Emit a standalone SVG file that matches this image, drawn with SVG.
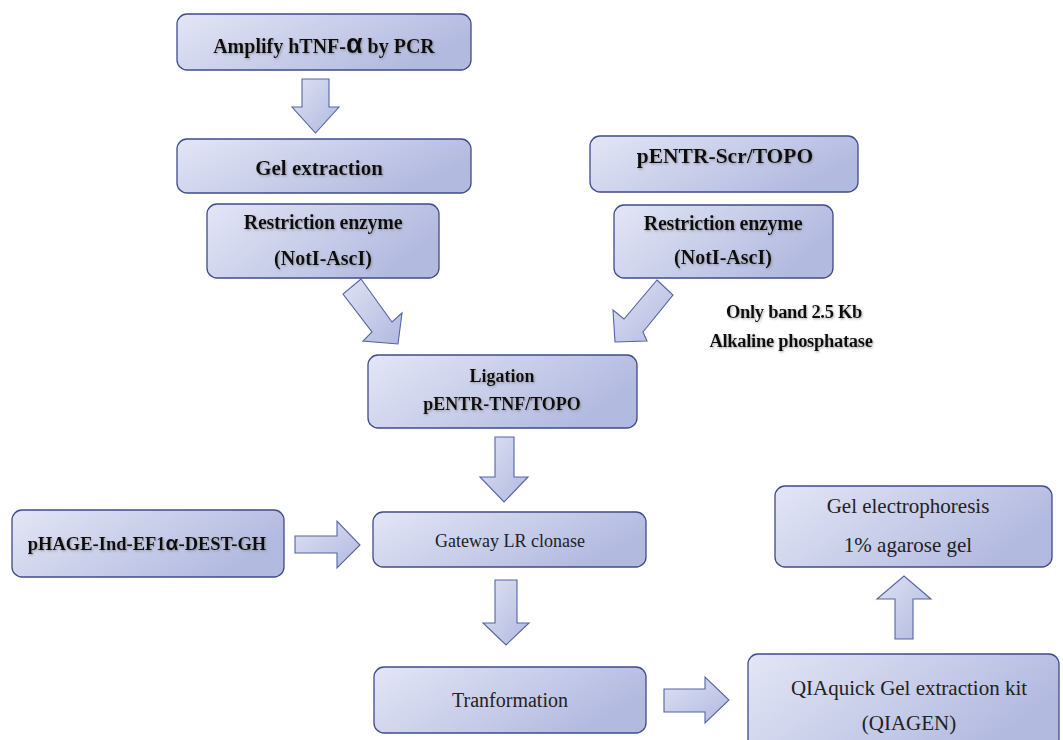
<svg xmlns="http://www.w3.org/2000/svg" width="1063" height="740" viewBox="0 0 1063 740">
<defs>
  <linearGradient id="boxg" x1="0" y1="0" x2="1" y2="0.4">
    <stop offset="0" stop-color="#e3e6f5"/>
    <stop offset="1" stop-color="#b3bae0"/>
  </linearGradient>
  <linearGradient id="arrg" x1="0" y1="0" x2="1" y2="1">
    <stop offset="0" stop-color="#dfe2f3"/>
    <stop offset="1" stop-color="#b0b8df"/>
  </linearGradient>
  <filter id="sh" x="-5%" y="-20%" width="110%" height="140%">
    <feDropShadow dx="1" dy="1.2" stdDeviation="0.8" flood-color="#777" flood-opacity="0.6"/>
  </filter>
</defs>
<style>
  .box { fill: url(#boxg); stroke: #3f4c8c; stroke-width: 1.3; }
  .arr { fill: url(#arrg); stroke: #5664a6; stroke-width: 1.1; stroke-linejoin: miter; }
  .b { font-family: "Liberation Serif", "Times New Roman", serif; font-weight: bold; fill: #111; text-anchor: middle; filter: url(#sh); }
  .n { font-family: "Liberation Serif", "Times New Roman", serif; fill: #222; text-anchor: middle; }
  .al { font-family: "Liberation Sans", Arial, sans-serif; font-weight: bold; }
</style>
<rect width="1063" height="740" fill="#ffffff"/>

<g id="connectors">
  <polygon class="arr" points="302,79 329,79 329,107 339,107 315.5,133 292,107 302,107"/>
  <polygon class="arr" points="361,279 343,294 372,332 363,341 398,344 402,313 392,322"/>
  <polygon class="arr" points="657,280 673,295 643,332 647,341 615,342 613,310 624,319"/>
  <polygon class="arr" points="495,437 514,437 514,477 528,477 504,502 480,477 495,477"/>
  <polygon class="arr" points="295,536 337,536 337,521 360,545 337,568 337,553 295,553"/>
  <polygon class="arr" points="495,580 517,580 517,623 529,623 506,645 483,623 495,623"/>
  <polygon class="arr" points="664,689 705,689 705,677 729,700 705,723 705,712 664,712"/>
  <polygon class="arr" points="895,639 913,639 913,599 931,599 904,576 877,599 895,599"/>
</g>

<g id="amplify">
  <rect class="box" x="177" y="14" width="294" height="56" rx="10"/>
  <text class="b" x="324" y="53" font-size="20">Amplify hTNF-<tspan class="al" font-size="27">α</tspan> by PCR</text>
</g>

<g id="gel-extraction">
  <rect class="box" x="177" y="139" width="294" height="54" rx="10"/>
  <text class="b" x="319" y="175" font-size="21">Gel extraction</text>
</g>

<g id="restriction-left">
  <rect class="box" x="207" y="204" width="232" height="74" rx="10"/>
  <text class="b" x="323" y="229" font-size="20" letter-spacing="-0.3">Restriction enzyme</text>
  <text class="b" x="323" y="265" font-size="20">(NotI-AscI)</text>
</g>

<g id="pentr-scr">
  <rect class="box" x="590" y="136" width="268" height="56" rx="10"/>
  <text class="b" x="725" y="163" font-size="21.5">pENTR-Scr/TOPO</text>
</g>

<g id="restriction-right">
  <rect class="box" x="614" y="205" width="219" height="73" rx="10"/>
  <text class="b" x="723" y="230" font-size="20" letter-spacing="-0.3">Restriction enzyme</text>
  <text class="b" x="723" y="264" font-size="20">(NotI-AscI)</text>
</g>

<g id="notes">
  <text class="b" x="794" y="318" font-size="18.5" letter-spacing="-0.3">Only band 2.5 Kb</text>
  <text class="b" x="791" y="347" font-size="18.5" letter-spacing="-0.3">Alkaline phosphatase</text>
</g>

<g id="ligation">
  <rect class="box" x="368" y="355" width="269" height="73" rx="10"/>
  <text class="b" x="502" y="382" font-size="18">Ligation</text>
  <text class="b" x="502" y="410" font-size="18">pENTR-TNF/TOPO</text>
</g>

<g id="phage">
  <rect class="box" x="12" y="510" width="272" height="67" rx="10"/>
  <text class="b" x="147" y="550" font-size="18.5">pHAGE-Ind-EF1<tspan class="al" font-size="21">α</tspan>-DEST-GH</text>
</g>

<g id="gateway">
  <rect class="box" x="373" y="512" width="273" height="55" rx="10"/>
  <text class="n" x="510" y="547" font-size="18">Gateway LR clonase</text>
</g>

<g id="transformation">
  <rect class="box" x="374" y="667" width="272" height="66" rx="10"/>
  <text class="n" x="510" y="707" font-size="20">Tranformation</text>
</g>

<g id="qiaquick">
  <rect class="box" x="748" y="654" width="311" height="96" rx="10"/>
  <text class="n" x="909" y="695" font-size="21">QIAquick Gel extraction kit</text>
  <text class="n" x="909" y="730" font-size="21">(QIAGEN)</text>
</g>

<g id="gel-electrophoresis">
  <rect class="box" x="775" y="486" width="277" height="81" rx="10"/>
  <text class="n" x="908" y="513" font-size="21">Gel electrophoresis</text>
  <text class="n" x="908" y="552" font-size="21">1% agarose gel</text>
</g>
</svg>
